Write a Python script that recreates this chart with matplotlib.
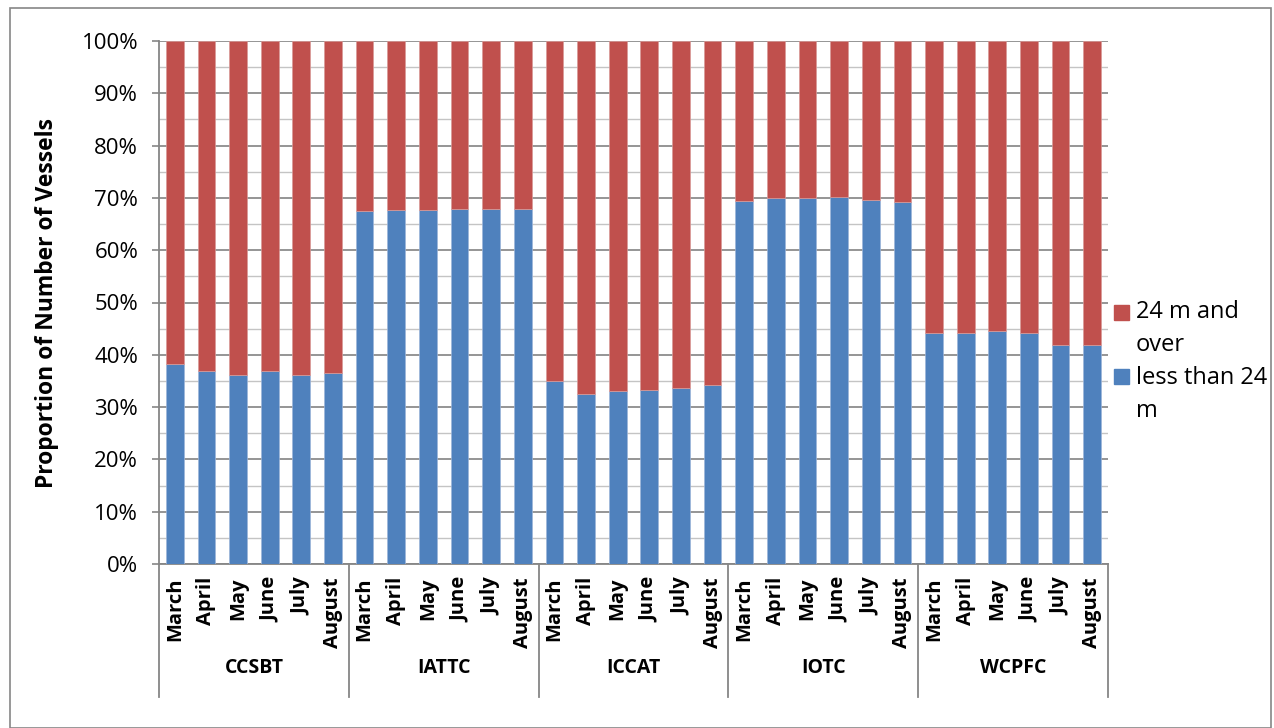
import matplotlib.pyplot as plt
import matplotlib.transforms as mtransforms
from matplotlib.patches import Rectangle
import numpy as np

plt.rcParams['font.family'] = ['Open Sans', 'DejaVu Sans']

# data: share of vessels under 24 m (%), rest is 24 m and over
groups = ['CCSBT', 'IATTC', 'ICCAT', 'IOTC', 'WCPFC']
months = ['March', 'April', 'May', 'June', 'July', 'August']
ccsbt = [38.2, 36.9, 36.1, 36.9, 36.1, 36.5]
iattc = [67.5, 67.7, 67.6, 67.8, 67.8, 67.8]
iccat = [34.9, 32.5, 33.0, 33.3, 33.6, 34.3]
iotc = [69.5, 69.9, 70.0, 70.2, 69.6, 69.2]
wcpfc = [44.1, 44.1, 44.5, 44.1, 41.9, 41.8]
series_names = ['24 m and\nover', 'less than 24\nm']

less_24 = np.array(ccsbt + iattc + iccat + iotc + wcpfc)
over_24 = 100 - less_24

BLUE = '#4F81BD'
RED = '#C0504D'
AXC = '#868686'

W, H = 1274, 728
fig = plt.figure(figsize=(W / 100, H / 100), dpi=100)
ax = fig.add_axes([159 / W, 1 - 564 / H, (1108 - 159) / W, (564 - 41) / H])

x = np.arange(len(less_24))
ax.bar(x, less_24, width=0.56, color=BLUE, edgecolor='#9DB5DA', linewidth=0.5, zorder=3)
ax.bar(x, over_24, bottom=less_24, width=0.56, color=RED, edgecolor='#D99A98', linewidth=0.5, zorder=3)

ax.set_xlim(-0.5, len(x) - 0.5)
ax.set_ylim(0, 100)
ax.set_yticks(np.arange(0, 101, 10))
ax.set_yticklabels([f'{v}%' for v in range(0, 101, 10)], fontsize=16)
ax.set_yticks(np.arange(5, 100, 10), minor=True)
ax.grid(axis='y', which='major', color='#8C8C8C', linewidth=1.3, zorder=0)
ax.grid(axis='y', which='minor', color='#C4C4C4', linewidth=1.0, zorder=0)
ax.tick_params(axis='y', which='major', length=5, width=1.2, color=AXC, pad=10)
ax.tick_params(axis='y', which='minor', length=0)
ax.set_xticks([])

for s in ['top', 'right']:
    ax.spines[s].set_visible(False)
for s in ['left', 'bottom']:
    ax.spines[s].set_color(AXC)
    ax.spines[s].set_linewidth(1.3)

ax.set_ylabel('Proportion of Number of Vessels', fontsize=16.5, fontweight='bold', labelpad=16)

# category labels (months, then regional bodies)
trans = mtransforms.blended_transform_factory(ax.transData, ax.transAxes)
sep_bottom = -(697 - 564) / 523
for i in range(len(x)):
    ax.text(x[i], -(577 - 564) / 523, months[i % 6], rotation=90, ha='center', va='top',
            fontsize=14.5, fontweight='bold', transform=trans)
for g, name in enumerate(groups):
    ax.text(g * 6 + 2.5, -(668 - 564) / 523, name, ha='center', va='center',
            fontsize=14, fontweight='bold', transform=trans)
for b in np.arange(-0.5, len(x), 6):
    ax.plot([b, b], [0, sep_bottom], color=AXC, linewidth=1.3,
            transform=trans, clip_on=False)

# legend: square key beside the first line of each entry
for (sq_top, base1, colr, label) in [(305, 318, RED, series_names[0]),
                                     (369, 384, BLUE, series_names[1])]:
    fig.add_artist(Rectangle((1114 / W, 1 - (sq_top + 15) / H), 15 / W, 15 / H,
                             transform=fig.transFigure, color=colr))
    for k, line in enumerate(label.split('\n')):
        fig.text(1136 / W, 1 - (base1 + 33 * k) / H, line, fontsize=17,
                 va='baseline', ha='left')

# outer chart border
fig.add_artist(Rectangle((10 / W, 0), 1261 / W, 1 - 8 / H,
                         transform=fig.transFigure, fill=False,
                         edgecolor=AXC, linewidth=1.2))

fig.savefig('out.png', dpi=100)
